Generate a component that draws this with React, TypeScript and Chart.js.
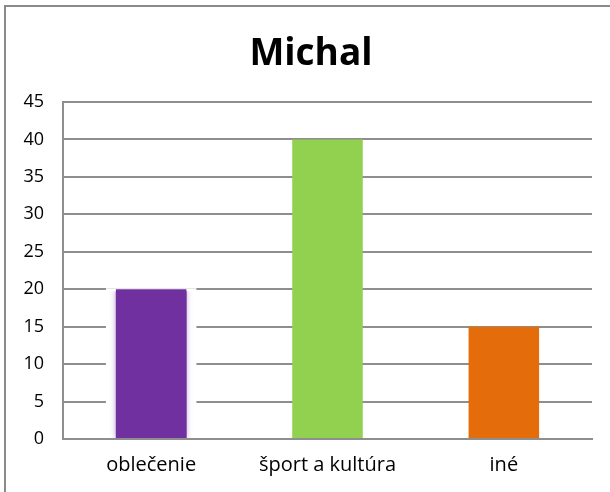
import React, { useEffect, useRef } from "react";
import { Chart, registerables } from "chart.js";

Chart.register(...registerables);

const categories = ["oblečenie", "šport a kultúra", "iné"];
const values = [20, 40, 15];
const barColors = ["#7030A0", "#92D050", "#E46C0A"];
const chartTitle = "Michal";

export default function App() {
  const ref = useRef<HTMLCanvasElement | null>(null);

  useEffect(() => {
    document.body.style.margin = "0";
    if (!ref.current) return;
    const grid = "#8e8e8e";
    const titlePlugin = {
      id: "centeredTitle",
      afterDraw(chart: any) {
        const ctx = chart.ctx;
        ctx.save();
        ctx.font = "bold 37px 'Open Sans', sans-serif";
        ctx.fillStyle = "#000";
        ctx.textAlign = "center";
        ctx.textBaseline = "alphabetic";
        ctx.fillText(chartTitle, 311, 65);
        ctx.restore();
      },
    };
    const glowPlugin = {
      id: "firstBarGlow",
      beforeDatasetsDraw(chart: any) {
        const meta = chart.getDatasetMeta(0);
        const el = meta.data[0];
        if (!el) return;
        const { x, y, base, width } = el.getProps(["x", "y", "base", "width"], true);
        const ctx = chart.ctx;
        ctx.save();
        ctx.fillStyle = "#fff";
        ctx.fillRect(x - width / 2 - 10, y - 1, width + 20, base - y - 1);
        ctx.beginPath();
        ctx.rect(x - width / 2 - 14, y + 2, width + 28, base - y - 2);
        ctx.clip();
        ctx.shadowColor = "rgba(112,48,160,0.5)";
        ctx.shadowBlur = 6;
        ctx.fillStyle = barColors[0];
        ctx.fillRect(x - width / 2, y, width, base - y);
        ctx.restore();
      },
    };
    const chart = new Chart(ref.current, {
      type: "bar",
      data: {
        labels: categories,
        datasets: [
          {
            data: values,
            backgroundColor: barColors,
            borderWidth: 0,
            barPercentage: 0.4,
            categoryPercentage: 1,
          },
        ],
      },
      options: {
        animation: false,
        responsive: false,
        layout: { padding: { left: 0, right: 18, top: 102, bottom: 0 } },
        plugins: {
          legend: { display: false },
          tooltip: { enabled: false },
          title: { display: false },
        },
        scales: {
          x: {
            grid: { display: false, drawTicks: false },
            border: { display: true, color: grid, width: 2 },
            ticks: {
              color: "#000",
              font: { family: "'Open Sans', sans-serif", size: 20 },
              padding: 14,
              maxRotation: 0,
            },
            afterFit: (s: any) => {
              s.height = 53;
            },
          },
          y: {
            min: 0,
            max: 45,
            grid: { color: grid, lineWidth: 2, drawTicks: false },
            border: { display: true, color: grid, width: 2 },
            ticks: {
              stepSize: 5,
              color: "#000",
              font: { family: "'Open Sans', sans-serif", size: 18 },
              padding: 19,
            },
            afterFit: (s: any) => {
              s.width = 63;
            },
          },
        },
      },
      plugins: [titlePlugin, glowPlugin],
    });
    return () => chart.destroy();
  }, []);

  return (
    <div style={{ position: "relative", width: 610, height: 492, background: "#fff" }}>
      <div
        style={{
          position: "absolute",
          left: 4,
          top: 5,
          right: 0,
          bottom: 0,
          borderLeft: "2px solid #8a8a8a",
          borderTop: "2px solid #8a8a8a",
        }}
      />
      <canvas ref={ref} width={610} height={492} style={{ position: "absolute", left: 0, top: 0 }} />
    </div>
  );
}
